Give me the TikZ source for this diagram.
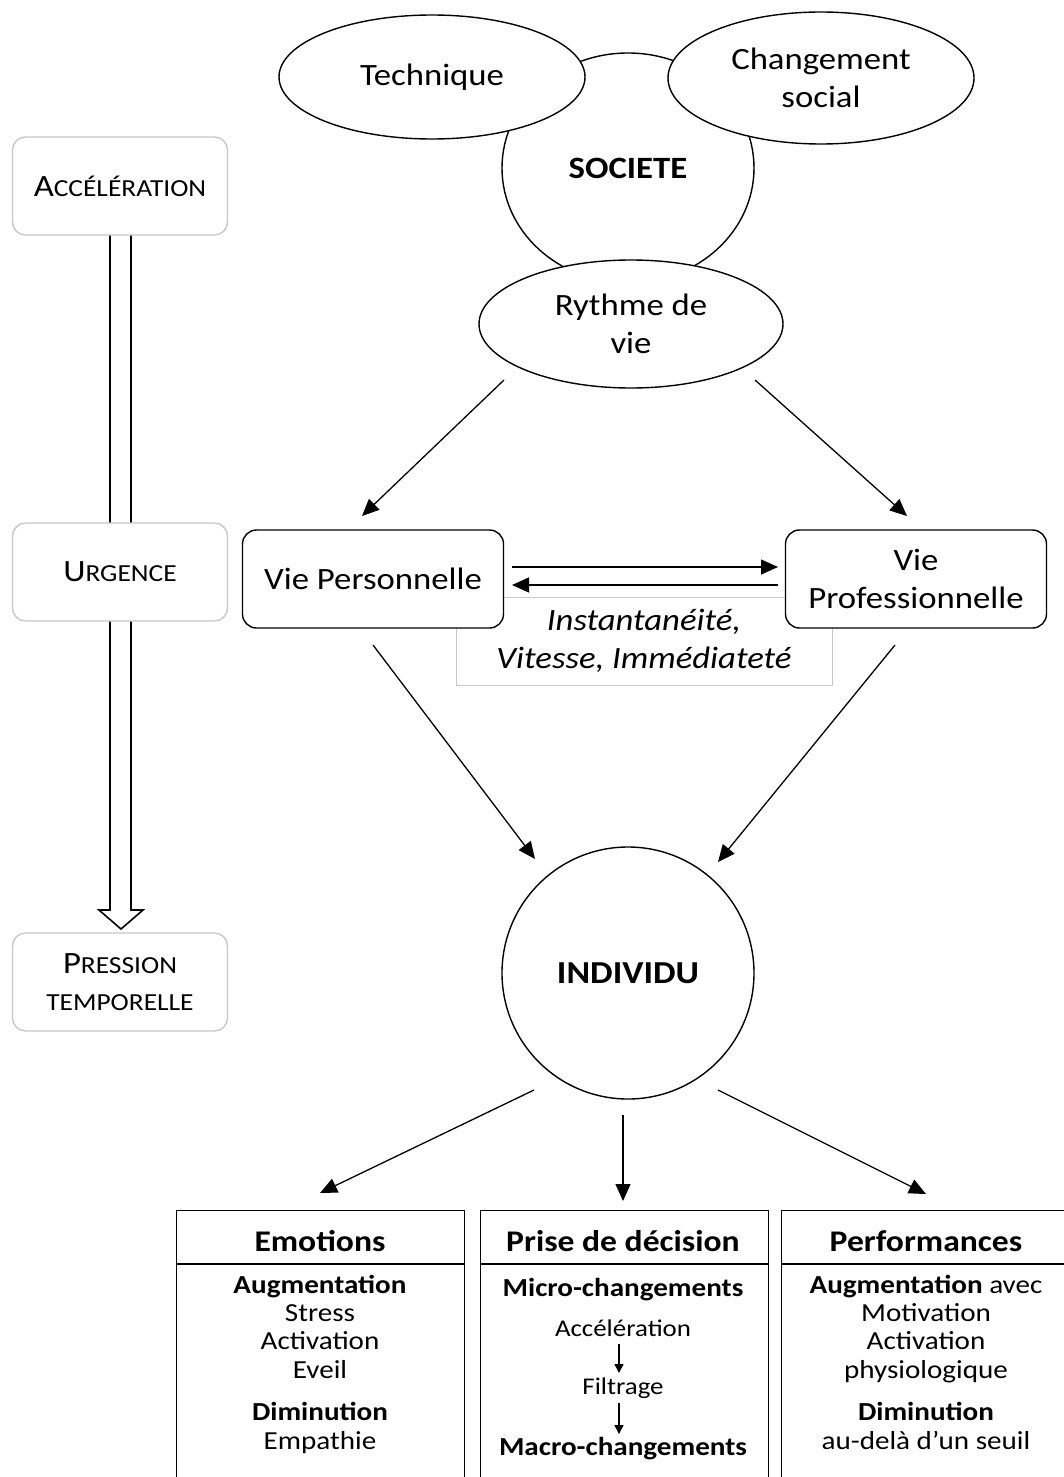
\documentclass[tikz,border=0pt]{standalone}
\usepackage{fontspec}
\setmainfont{Carlito}[FakeStretch=1.12]
\usetikzlibrary{arrows.meta,shapes.geometric,calc}
\newcommand\fakesc[2]{{\fontsize{31}{38}\selectfont #1}{\fontsize{24.5}{38}\selectfont #2}}
\newcommand\bigtxt{\fontsize{31}{38}\selectfont}
\newcommand\midtxt{\fontsize{26}{28.5}\selectfont}
\newcommand\smalltxt{\fontsize{24}{28}\selectfont}
\begin{document}
\begin{tikzpicture}[x=1pt,y=-1pt,line width=1.4pt,
  ell/.style={ellipse,draw,fill=white,inner sep=0pt,align=center,font=\bigtxt},
  arr/.style={-{Triangle[length=17pt,width=15pt]},line width=1.3pt},
  smallarr/.style={-{Triangle[length=9pt,width=9pt]},line width=1.5pt},
  sidebox/.style={rectangle,rounded corners=13pt,draw=black!22,fill=white,minimum width=215pt,minimum height=98pt,align=center,font=\fontsize{24.5}{37}\selectfont},
  viebox/.style={rectangle,rounded corners=14pt,draw,fill=white,minimum width=261pt,minimum height=98pt,align=center,font=\bigtxt},
  outbox/.style={rectangle,draw,fill=white,anchor=north west,minimum width=288pt,minimum height=290pt,line width=1.3pt},
  head/.style={anchor=base,font=\fontsize{30}{34}\selectfont\bfseries},
  item/.style={anchor=base,font=\midtxt},
  bitem/.style={anchor=base,font=\midtxt\bfseries},
  sitem/.style={anchor=base,font=\smalltxt}]
\clip (0,0) rectangle (1064,1477);
\fill[white] (0,0) rectangle (1064,1477);

% Society cluster
\node[ell,minimum width=252pt,minimum height=230pt,font=\fontsize{31}{38}\selectfont\bfseries] (soc) at (628,168) {SOCIETE};
\node[ell,minimum width=306pt,minimum height=124pt] (tech) at (432,77) {Technique};
\node[ell,minimum width=306pt,minimum height=132pt] (chg) at (821,78) {Changement\\social};
\node[ell,minimum width=304pt,minimum height=128pt] (ryt) at (631,324) {Rythme de\\vie};

% label box
\node[rectangle,draw=black!22,line width=1pt,fill=white,minimum width=376pt,minimum height=88pt,align=center,font=\bigtxt\itshape] (lbl) at (644,641) {Instantanéité,\\Vitesse, Immédiateté};

% Vie boxes
\node[viebox] (vp) at (373,579) {Vie Personnelle};
\node[viebox] (vpro) at (916,579) {Vie\\Professionnelle};

% Individu
\node[circle,draw,fill=white,minimum size=252pt,inner sep=0pt,font=\fontsize{32}{38}\selectfont\bfseries] (ind) at (628,973) {INDIVIDU};

% connector end points
\coordinate (r1) at (504,380); \coordinate (p1) at (362,516);
\coordinate (r2) at (755,380); \coordinate (p2) at (907,516);
\coordinate (h1) at (512,567); \coordinate (h2) at (778,567);
\coordinate (h3) at (778,585); \coordinate (h4) at (512,585);
\coordinate (v1) at (373,645); \coordinate (i1) at (535,859);
\coordinate (v2) at (895,645); \coordinate (i2) at (718,862);
\coordinate (o1) at (534,1090); \coordinate (e1) at (320,1193);
\coordinate (o2) at (623,1115); \coordinate (e2) at (623,1201);
\coordinate (o3) at (718,1090); \coordinate (e3) at (926,1194);

\draw[arr] (r1) -- (p1);
\draw[arr] (r2) -- (p2);
\draw[arr] (h1) -- (h2);
\draw[arr] (h3) -- (h4);
\draw[arr] (v1) -- (i1);
\draw[arr] (v2) -- (i2);
\draw[arr] (o1) -- (e1);
\draw[arr] (o2) -- (e2);
\draw[arr] (o3) -- (e3);

% Bottom boxes
\node[outbox] (emo) at (176,1210) {};
\node[outbox] (dec) at (480,1210) {};
\node[outbox,minimum width=300pt] (perf) at (781,1210) {};
\draw[line width=1.3pt] ($(emo.north west)+(0,54)$) -- ($(emo.north east)+(0,54)$);
\draw[line width=1.3pt] ($(dec.north west)+(0,54)$) -- ($(dec.north east)+(0,54)$);
\draw[line width=1.3pt] ($(perf.north west)+(0,54)$) -- ($(perf.north east)+(0,54)$);

\node[head] (emoh) at (320,1251) {Emotions};
\node[bitem] (emo1) at (320,1293) {Augmentation};
\node[item] (emo2) at (320,1321) {Stress};
\node[item] (emo3) at (320,1349) {Activation};
\node[item] (emo4) at (320,1378) {Eveil};
\node[bitem] (emo5) at (320,1420) {Diminution};
\node[item] (emo6) at (320,1449) {Empathie};

\node[head] (dech) at (623,1251) {Prise de décision};
\node[bitem] (dec1) at (623,1296) {Micro-changements};
\node[sitem] (dec2) at (623,1336) {Accélération};
\node[sitem] (dec3) at (623,1394) {Filtrage};
\node[bitem] (dec4) at (623,1455) {Macro-changements};
\coordinate (s1) at (619,1344); \coordinate (s2) at (619,1373);
\coordinate (s3) at (619,1403); \coordinate (s4) at (619,1434);
\draw[smallarr] (s1) -- (s2);
\draw[smallarr] (s3) -- (s4);

\node[head] (perfh) at (926,1251) {Performances};
\node[item] (perf1) at (926,1293) {\textbf{Augmentation} avec};
\node[item] (perf2) at (926,1321) {Motivation};
\node[item] (perf3) at (926,1349) {Activation};
\node[item] (perf4) at (926,1378) {physiologique};
\node[bitem] (perf5) at (926,1420) {Diminution};
\node[item] (perf6) at (926,1449) {au-delà d’un seuil};

% Left column: hollow arrow
\draw[line width=1.6pt,fill=white] (110,235) -- (110,910) -- (99,910) -- (121,929) -- (143,910) -- (131,910) -- (131,235);
\node[sidebox] (acc) at (120,186) {\fakesc{A}{CCÉLÉRATION}};
\node[sidebox] (urg) at (120,572) {\fakesc{U}{RGENCE}};
\node[sidebox] (pres) at (120,982) {\fakesc{P}{RESSION}\\TEMPORELLE};
\end{tikzpicture}
\end{document}
